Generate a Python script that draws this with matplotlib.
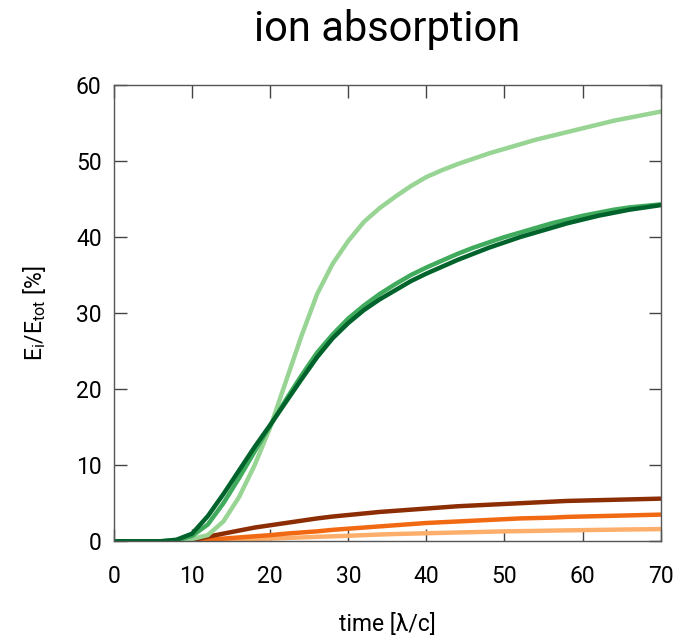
import numpy as np
import matplotlib
matplotlib.use('Agg')
import matplotlib.pyplot as plt

plt.rcParams['font.family'] = ['Roboto', 'DejaVu Sans']
plt.rcParams['mathtext.fontset'] = 'custom'
plt.rcParams['mathtext.rm'] = 'Roboto'
plt.rcParams['mathtext.it'] = 'Roboto'

# time axis [lambda/c]
t = [0, 2, 4, 6, 8, 10, 12, 14, 16, 18, 20, 22, 24, 26, 28, 30, 32, 34, 36,
     38, 40, 42, 44, 46, 48, 50, 52, 54, 56, 58, 60, 62, 64, 66, 68, 70]

# ion absorption E_i/E_tot [%]
light_green = [0, 0, 0, 0, 0.05, 0.3, 0.8, 2.6, 5.8, 10.0, 15.0, 21.0, 27.0, 32.5,
               36.5, 39.5, 42.0, 43.8, 45.3, 46.7, 47.9, 48.8, 49.6, 50.3, 51.0,
               51.6, 52.2, 52.8, 53.3, 53.8, 54.3, 54.8, 55.3, 55.7, 56.1, 56.5]
mid_green = [0, 0, 0, 0, 0.1, 0.7, 2.2, 5.0, 8.3, 11.8, 15.2, 18.6, 21.8, 24.8,
             27.2, 29.3, 31.0, 32.5, 33.8, 35.0, 36.0, 36.9, 37.8, 38.6, 39.3,
             40.0, 40.6, 41.2, 41.8, 42.3, 42.8, 43.2, 43.6, 43.9, 44.1, 44.3]
dark_green = [0, 0, 0, 0, 0.2, 1.0, 3.3, 6.2, 9.3, 12.4, 15.3, 18.3, 21.3, 24.2,
              26.7, 28.7, 30.4, 31.8, 33.0, 34.2, 35.2, 36.1, 37.0, 37.8, 38.6,
              39.3, 40.0, 40.6, 41.2, 41.8, 42.3, 42.8, 43.2, 43.6, 43.9, 44.2]
dark_brown = [0, 0, 0, 0, 0, 0.15, 0.6, 1.0, 1.4, 1.8, 2.1, 2.4, 2.7, 3.0,
              3.25, 3.45, 3.65, 3.85, 4.0, 4.15, 4.3, 4.45, 4.6, 4.7, 4.8,
              4.9, 5.0, 5.1, 5.2, 5.3, 5.35, 5.4, 5.45, 5.5, 5.55, 5.6]
orange = [0, 0, 0, 0, 0, 0.05, 0.2, 0.35, 0.5, 0.65, 0.8, 1.0, 1.15, 1.3,
          1.5, 1.65, 1.8, 1.95, 2.1, 2.25, 2.4, 2.5, 2.6, 2.7, 2.8,
          2.9, 3.0, 3.05, 3.1, 3.2, 3.25, 3.3, 3.35, 3.4, 3.45, 3.5]
light_orange = [0, 0, 0, 0, 0, 0, 0.05, 0.12, 0.2, 0.28, 0.35, 0.43, 0.5, 0.58,
                0.65, 0.72, 0.8, 0.88, 0.95, 1.0, 1.05, 1.1, 1.15, 1.2, 1.25,
                1.3, 1.33, 1.36, 1.4, 1.43, 1.46, 1.49, 1.52, 1.55, 1.57, 1.6]

series = [
    (light_orange, '#fdae6b'),
    (orange, '#f16913'),
    (dark_brown, '#8c2d04'),
    (light_green, '#98d594'),
    (mid_green, '#41ab5d'),
    (dark_green, '#00632c'),
]

fig = plt.figure(figsize=(6.79, 6.39), dpi=100)
ax = fig.add_axes([0.168, 0.153, 0.805, 0.714])

for y, c in series:
    ax.plot(t, y, color=c, lw=3.2, solid_capstyle='round', solid_joinstyle='round')

ax.set_xlim(0, 70)
ax.set_ylim(0, 60)
ax.set_xticks(range(0, 71, 10))
ax.set_yticks(range(0, 61, 10))

for s in ax.spines.values():
    s.set_color('#555555')
    s.set_linewidth(1.0)

ax.tick_params(axis='both', direction='in', length=9, width=1.0, color='#444444',
               top=True, right=True, labelsize=16.5)
ax.tick_params(axis='y', pad=9)
ax.tick_params(axis='x', pad=17)

ax.set_xlabel('time [λ/c]', fontsize=16.5, labelpad=18)
ax.set_ylabel(r'$\mathregular{E_i/E_{tot}}$ [%]', fontsize=16.5, labelpad=20)
ax.set_title('ion absorption', fontsize=30, pad=32)

fig.savefig('out.png', dpi=100)
